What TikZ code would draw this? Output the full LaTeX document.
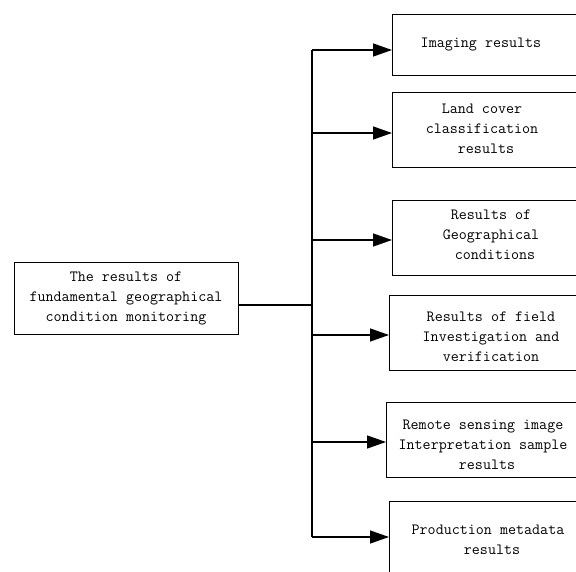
\documentclass[tikz,border=0pt]{standalone}
\usepackage{fontspec}
\usetikzlibrary{arrows.meta}
\begin{document}
\begin{tikzpicture}[x=1pt,y=-1pt,
  box/.style={draw, line width=1pt, inner sep=0pt, anchor=north west},
  lbl/.style={font=\fontsize{15.6}{20}\selectfont\ttfamily, align=center, inner sep=0pt},
  conn/.style={line width=1.3pt},
  arr/.style={line width=1.3pt, -{Triangle[length=19pt,width=13pt]}}]
\useasboundingbox (0,0) rectangle (576,572);
\clip (0,0) rectangle (576,572);
% root
\node[box, lbl, minimum width=224pt, minimum height=71pt, anchor=center] (root) at (126,298.5)
  {The results of\\fundamental geographical\\condition monitoring};
% boxes
\node[box, minimum width=230pt, minimum height=61pt] (b1) at (392,14) {};
\node[box, minimum width=230pt, minimum height=75pt] (b2) at (392,92) {};
\node[box, minimum width=230pt, minimum height=75pt] (b3) at (392,200) {};
\node[box, minimum width=230pt, minimum height=75pt] (b4) at (389,295) {};
\node[box, minimum width=230pt, minimum height=75pt] (b5) at (386,402) {};
\node[box, minimum width=230pt, minimum height=80pt] (b6) at (389,501) {};
% labels
\node[lbl] (t1) at (481,45) {Imaging results};
\node[lbl] (t2) at (482,129) {Land cover~\\classification\\~results};
\node[lbl] (t3) at (491,235) {Results of\\Geographical\\~conditions};
\node[lbl] (t4) at (491,337) {Results of field\\Investigation and\\verification};
\node[lbl] (t5) at (483,445) {Remote sensing image\\Interpretation sample\\~results};
\node[lbl] (t6) at (488,540) {Production metadata\\~results};
% trunk
\coordinate (j0) at (312,305);
\coordinate (j1) at (312,50);
\coordinate (j2) at (312,133);
\coordinate (j3) at (312,240);
\coordinate (j4) at (312,335);
\coordinate (j5) at (312,442);
\coordinate (j6) at (312,537);
\draw[conn] ([yshift=-6.5pt]root.east) -- (j0);
\draw[conn] (j1) -- (j6);
\draw[arr] (j1) -- (b1.west |- j1);
\draw[arr] (j2) -- (b2.west |- j2);
\draw[arr] (j3) -- (b3.west |- j3);
\draw[arr] (j4) -- (b4.west |- j4);
\draw[arr] (j5) -- (b5.west |- j5);
\draw[arr] (j6) -- (b6.west |- j6);
\end{tikzpicture}
\end{document}
